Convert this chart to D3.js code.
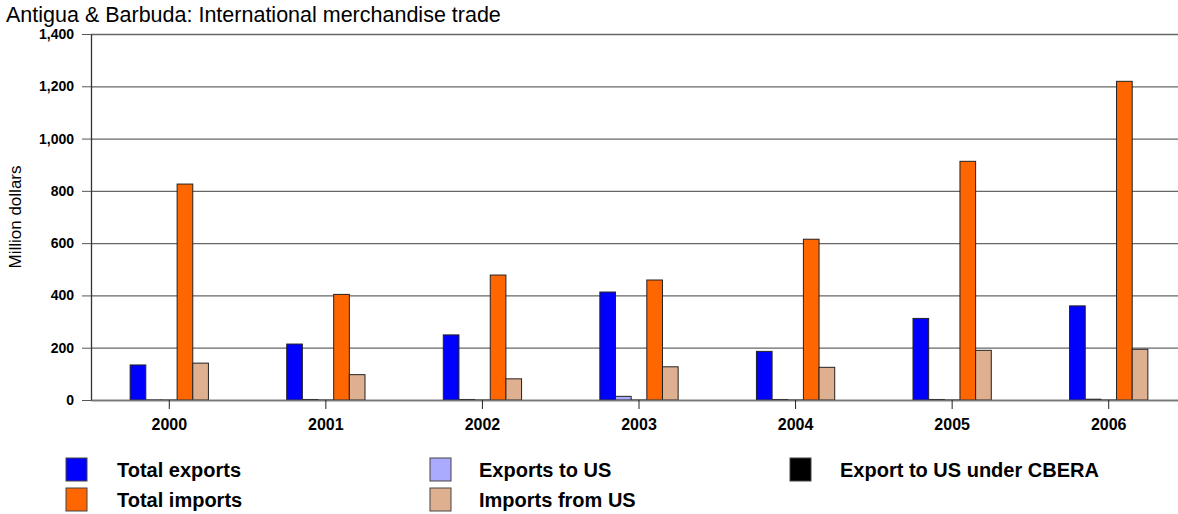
<!DOCTYPE html>
<html>
<head>
<meta charset="utf-8">
<script src="https://cdn.jsdelivr.net/npm/d3@7"></script>
<style>
  body { margin: 0; background: #fff; }
  svg { display: block; font-family: "Liberation Sans", Arial, sans-serif; }
  .grid line { stroke: #666; stroke-width: 1.3; }
  .grid path { display: none; }
</style>
</head>
<body>
<div id="chart"></div>
<script>
// chart data
var years = ['2000', '2001', '2002', '2003', '2004', '2005', '2006'];
var totalExports = [134, 214, 249, 413, 186, 312, 360];
var exportsToUS = [0.5, 2, 2, 14, 2, 2, 3];
var exportCBERA = [0.2, 0.2, 0.2, 0.2, 0.2, 0.2, 0.2];
var totalImports = [826, 404, 478, 459, 615, 913, 1219];
var importsFromUS = [141, 97, 81, 127, 125, 190, 194];
var yTicks = [0, 200, 400, 600, 800, 1000, 1200, 1400];

var series = [
    { name: 'Total exports', values: totalExports, color: '#0000ff' },
    { name: 'Exports to US', values: exportsToUS, color: '#aaaaff' },
    { name: 'Export to US under CBERA', values: exportCBERA, color: '#000000' },
    { name: 'Total imports', values: totalImports, color: '#ff6600' },
    { name: 'Imports from US', values: importsFromUS, color: '#dfb08f' }
];

var W = 1178, H = 514;
var plotLeft = 91, plotRight = 1187, plotTop = 34, plotBottom = 400;

var svg = d3.select('#chart').append('svg')
    .attr('width', W)
    .attr('height', H);

var x = d3.scaleBand().domain(years).range([plotLeft, plotRight]).padding(0);
var y = d3.scaleLinear().domain([0, 1400]).range([plotBottom, plotTop]);

// gridlines
svg.append('g')
    .attr('class', 'grid')
    .attr('transform', 'translate(' + plotLeft + ',0)')
    .call(d3.axisRight(y).tickValues(yTicks).tickSize(W - plotLeft).tickFormat(''));

// y axis
var yAxis = svg.append('g')
    .attr('transform', 'translate(' + plotLeft + ',0)')
    .call(d3.axisLeft(y).tickValues(yTicks).tickSize(9).tickSizeOuter(0).tickPadding(8).tickFormat(d3.format(',')));
yAxis.select('.domain').attr('stroke', '#333').attr('stroke-width', 1.3);
yAxis.selectAll('.tick line').attr('stroke', '#555');
yAxis.selectAll('text')
    .attr('fill', '#000')
    .style('font-size', '14px')
    .style('font-weight', 'bold')
    .style('font-family', '"Liberation Sans", Arial, sans-serif');

// bars
var inner = d3.scaleBand()
    .domain(d3.range(series.length))
    .range([x.bandwidth() * 0.25, x.bandwidth() * 0.75]);

series.forEach(function(s, i) {
    svg.append('g').selectAll('rect')
        .data(s.values)
        .enter().append('rect')
        .attr('x', function(d, j) { return x(years[j]) + inner(i); })
        .attr('y', function(d) { return y(d); })
        .attr('width', inner.bandwidth())
        .attr('height', function(d) { return y(0) - y(d); })
        .attr('fill', s.color)
        .attr('stroke', '#222')
        .attr('stroke-width', 1);
});

// x axis
var xAxis = svg.append('g')
    .attr('transform', 'translate(0,' + plotBottom + ')')
    .call(d3.axisBottom(x).tickSize(9).tickSizeOuter(0).tickPadding(10));
xAxis.select('.domain').attr('stroke', '#777').attr('stroke-width', 1.6);
xAxis.selectAll('.tick line').attr('stroke', '#222');
xAxis.selectAll('text')
    .attr('fill', '#000')
    .style('font-size', '16px')
    .style('font-weight', 'bold')
    .style('font-family', '"Liberation Sans", Arial, sans-serif');

// title
svg.append('text')
    .attr('x', 6)
    .attr('y', 22)
    .style('font-size', '21.5px')
    .text('Antigua & Barbuda: International merchandise trade');

// y axis title
svg.append('text')
    .attr('transform', 'translate(21,' + ((plotTop + plotBottom) / 2) + ') rotate(-90)')
    .attr('text-anchor', 'middle')
    .style('font-size', '17px')
    .text('Million dollars');

// legend
var legendPos = [
    { sx: 66, tx: 117, y: 458 },
    { sx: 430, tx: 479, y: 458 },
    { sx: 790, tx: 840, y: 458 },
    { sx: 66, tx: 117, y: 488 },
    { sx: 430, tx: 479, y: 488 }
];
var legend = svg.append('g').selectAll('g')
    .data(series)
    .enter().append('g');
legend.append('rect')
    .attr('x', function(d, i) { return legendPos[i].sx; })
    .attr('y', function(d, i) { return legendPos[i].y; })
    .attr('width', 21)
    .attr('height', 23)
    .attr('fill', function(d) { return d.color; })
    .attr('stroke', '#444');
legend.append('text')
    .attr('x', function(d, i) { return legendPos[i].tx; })
    .attr('y', function(d, i) { return legendPos[i].y + 19; })
    .style('font-size', '20px')
    .style('font-weight', 'bold')
    .text(function(d) { return d.name; });
</script>
</body>
</html>
